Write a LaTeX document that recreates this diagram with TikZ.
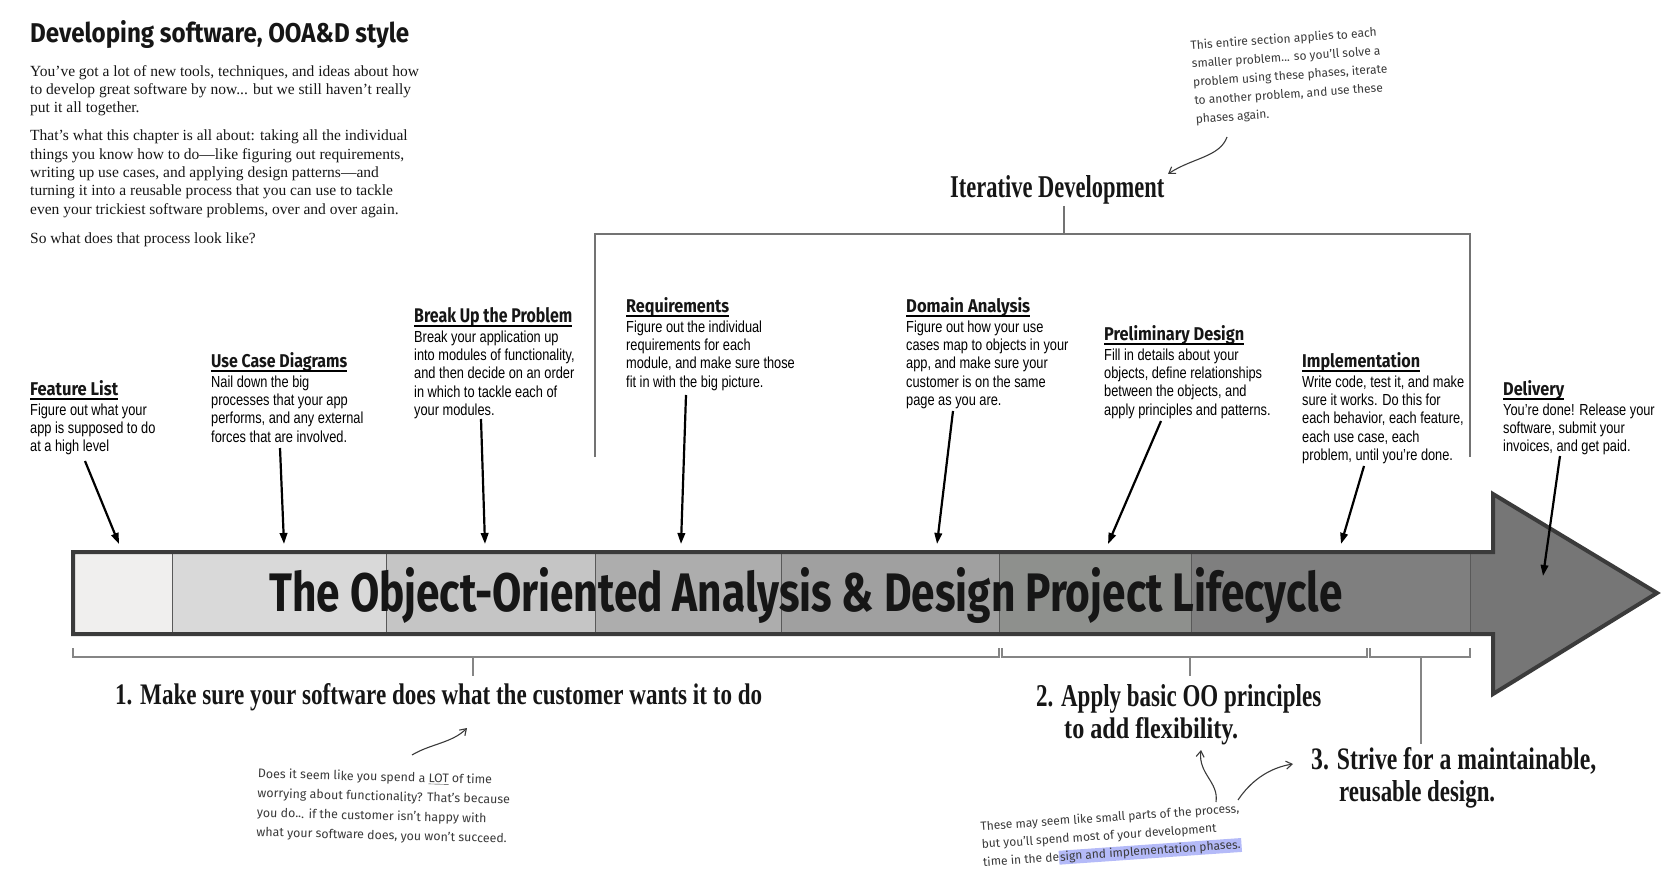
\documentclass[tikz,border=0pt]{standalone}
\usepackage{fontspec}
\usepackage{graphicx}
\usetikzlibrary{arrows.meta}
\setmainfont{Liberation Serif}
\newfontfamily\bodyfont[FakeStretch=0.8]{Liberation Sans}
\newfontfamily\headfont{Fira Sans}
\newfontfamily\handfont{Fira Sans}
\definecolor{sA}{HTML}{F0EFEE}
\definecolor{sB}{HTML}{D9D9D9}
\definecolor{sC}{HTML}{C5C5C5}
\definecolor{sD}{HTML}{ADADAD}
\definecolor{sE}{HTML}{A0A0A0}
\definecolor{sF}{HTML}{8E908D}
\definecolor{sG}{HTML}{7F7F7F}
\definecolor{sH}{HTML}{767676}
\definecolor{rim}{HTML}{3B3B3B}
\definecolor{ink}{HTML}{161616}
\definecolor{hand}{HTML}{3A3A3A}
\definecolor{brk}{HTML}{858585}
\definecolor{hl}{HTML}{B4BAF8}
\begin{document}
\begin{tikzpicture}[x=1pt,y=-1pt,
  intro/.style={anchor=north west, inner sep=0pt, align=left, text=ink, font=\fontsize{15.5}{18.3}\selectfont},
  hd/.style={anchor=base west, inner sep=0pt, text=ink, font=\headfont\bfseries},
  bd/.style={anchor=north west, inner sep=0pt, align=left, text=black, font=\bodyfont\fontsize{16}{18.3}\selectfont},
  lab/.style={anchor=base west, inner sep=0pt, text=ink, font=\bfseries},
  note/.style={anchor=north west, inner sep=0pt, align=left, text=hand, font=\handfont\fontsize{12}{18.5}\selectfont},
  ptr/.style={line width=2.2pt, black, -{Triangle[length=11pt,width=7.5pt]}},
  curv/.style={line width=1.1pt, hand, -{Straight Barb[length=6pt,width=8pt]}},
  ul/.style={line width=1.3pt, black},
  divl/.style={line width=1pt, draw=black!65},
  brkt/.style={line width=1.6pt, brk},
  ibrk/.style={line width=1.6pt, black!55}
]
\useasboundingbox (0,0) rectangle (1673,890);

% ---------- intro ----------
\node[anchor=base west, inner sep=0pt, text=ink, font=\headfont\bfseries] (ttl) at (30,43)
  {\resizebox{379pt}{22pt}{Developing software, OOA\&D style}};
\node[intro] (p1) at (30,65) {You’ve got a lot of new tools, techniques, and ideas about how\\to develop great software by now... but we still haven’t really\\put it all together.};
\node[intro] (p2) at (30,130) {That’s what this chapter is all about: taking all the individual\\things you know how to do—like figuring out requirements,\\writing up use cases, and applying design patterns—and\\turning it into a reusable process that you can use to tackle\\even your trickiest software problems, over and over again.};
\node[intro] (p3) at (30,232.5) {So what does that process look like?};

% ---------- top note ----------
\node[note, rotate=4] (tnote) at (1190,40) {This entire section applies to each\\smaller problem... so you’ll solve a\\problem using these phases, iterate\\to another problem, and use these\\phases again.};
\coordinate (tn-s) at (1227,137);
\coordinate (tn-e) at (1168,174);
\draw[curv] (tn-s) .. controls (1220,157) and (1192,158) .. (tn-e);

% ---------- iterative development ----------
\node[lab] (iter) at (950,198) {\resizebox{214pt}{22pt}{Iterative Development}};
\coordinate (it-top) at (1064,206);
\coordinate (it-mid) at (1064,234);
\coordinate (it-l) at (595,234);
\coordinate (it-r) at (1470,234);
\coordinate (it-lb) at (595,457);
\coordinate (it-rb) at (1470,457);
\draw[ibrk] (it-top) -- (it-mid);
\draw[ibrk] (it-lb) -- (it-l) -- (it-r) -- (it-rb);

% ---------- big arrow ----------
\fill[sA] (73,552) rectangle (172,634);
\fill[sB] (172,552) rectangle (386,634);
\fill[sC] (386,552) rectangle (595,634);
\fill[sD] (595,552) rectangle (781,634);
\fill[sE] (781,552) rectangle (999,634);
\fill[sF] (999,552) rectangle (1191,634);
\fill[sG] (1191,552) rectangle (1470,634);
\fill[sH] (1470,552) -- (1493,552) -- (1493,494) -- (1657,593) -- (1493,694) -- (1493,634) -- (1470,634) -- cycle;
\foreach \xx in {172,386,595,781,999,1191,1470} { \draw[divl] (\xx,552) -- (\xx,634); }
\node[anchor=base west, inner sep=0pt, text=ink, font=\headfont\bfseries] (big) at (269,611)
  {\resizebox{1073pt}{44pt}{The Object-Oriented Analysis \& Design Project Lifecycle}};
\draw[line width=4pt, rim, line join=miter] (73,552) -- (1493,552) -- (1493,494) -- (1657,593) -- (1493,694) -- (1493,634) -- (73,634) -- cycle;

% ---------- phases ----------
% Feature List
\node[hd] (fl) at (30,396) {\resizebox{88pt}{15pt}{Feature List}};
\draw[ul] ([yshift=-3pt]fl.base west) -- ([yshift=-3pt]fl.base east);
\node[bd] (flb) at (30,403.5) {Figure out what your\\app is supposed to do\\at a high level};
\coordinate (fl-s) at (85,461); \coordinate (fl-e) at (119,544);
\draw[ptr] (fl-s) -- (fl-e);
% Use Case Diagrams
\node[hd] (uc) at (211,368) {\resizebox{136pt}{15pt}{Use Case Diagrams}};
\draw[ul] ([yshift=-3pt]uc.base west) -- ([yshift=-3pt]uc.base east);
\node[bd] (ucb) at (211,375.5) {Nail down the big\\processes that your app\\performs, and any external\\forces that are involved.};
\coordinate (uc-s) at (280,448); \coordinate (uc-e) at (284,544);
\draw[ptr] (uc-s) -- (uc-e);
% Break Up the Problem
\node[hd] (bu) at (414,323) {\resizebox{158pt}{15pt}{Break Up the Problem}};
\draw[ul] ([yshift=-3pt]bu.base west) -- ([yshift=-3pt]bu.base east);
\node[bd] (bub) at (414,330.5) {Break your application up\\into modules of functionality,\\and then decide on an order\\in which to tackle each of\\your modules.};
\coordinate (bu-s) at (481,419); \coordinate (bu-e) at (485,544);
\draw[ptr] (bu-s) -- (bu-e);
% Requirements
\node[hd] (rq) at (626,313) {\resizebox{103pt}{15pt}{Requirements}};
\draw[ul] ([yshift=-3pt]rq.base west) -- ([yshift=-3pt]rq.base east);
\node[bd] (rqb) at (626,320.5) {Figure out the individual\\requirements for each\\module, and make sure those\\fit in with the big picture.};
\coordinate (rq-s) at (686,395); \coordinate (rq-e) at (681,544);
\draw[ptr] (rq-s) -- (rq-e);
% Domain Analysis
\node[hd] (da) at (906,313) {\resizebox{124pt}{15pt}{Domain Analysis}};
\draw[ul] ([yshift=-3pt]da.base west) -- ([yshift=-3pt]da.base east);
\node[bd] (dab) at (906,320.5) {Figure out how your use\\cases map to objects in your\\app, and make sure your\\customer is on the same\\page as you are.};
\coordinate (da-s) at (953,411); \coordinate (da-e) at (937,544);
\draw[ptr] (da-s) -- (da-e);
% Preliminary Design
\node[hd] (pd) at (1104,341) {\resizebox{140pt}{15pt}{Preliminary Design}};
\draw[ul] ([yshift=-3pt]pd.base west) -- ([yshift=-3pt]pd.base east);
\node[bd] (pdb) at (1104,348.5) {Fill in details about your\\objects, define relationships\\between the objects, and\\apply principles and patterns.};
\coordinate (pd-s) at (1161,421); \coordinate (pd-e) at (1108,544);
\draw[ptr] (pd-s) -- (pd-e);
% Implementation
\node[hd] (im) at (1302,368) {\resizebox{118pt}{15pt}{Implementation}};
\draw[ul] ([yshift=-3pt]im.base west) -- ([yshift=-3pt]im.base east);
\node[bd] (imb) at (1302,375.5) {Write code, test it, and make\\sure it works. Do this for\\each behavior, each feature,\\each use case, each\\problem, until you’re done.};
\coordinate (im-s) at (1364,466); \coordinate (im-e) at (1341,544);
\draw[ptr] (im-s) -- (im-e);
% Delivery
\node[hd] (dl) at (1503,396) {\resizebox{61pt}{15pt}{Delivery}};
\draw[ul] ([yshift=-3pt]dl.base west) -- ([yshift=-3pt]dl.base east);
\node[bd] (dlb) at (1503,403.5) {You’re done! Release your\\software, submit your\\invoices, and get paid.};
\coordinate (dl-s) at (1560,456); \coordinate (dl-e) at (1543,576);
\draw[ptr] (dl-s) -- (dl-e);

% ---------- bottom brackets ----------
\draw[brkt] (73,648) -- (73,657) -- (999,657) -- (999,648);
\draw[brkt] (473,657) -- (473,676);
\draw[brkt] (1002,648) -- (1002,657) -- (1367,657) -- (1367,648);
\draw[brkt] (1190,657) -- (1190,676);
\draw[brkt] (1370,648) -- (1370,657) -- (1470,657) -- (1470,648);
\draw[brkt] (1421,657) -- (1421,744);

% ---------- bottom labels ----------
\node[lab] (g1) at (115,704) {\resizebox{647pt}{21pt}{1. Make sure your software does what the customer wants it to do}};
\node[lab] (g2a) at (1036,706) {\resizebox{285pt}{22pt}{2. Apply basic OO principles}};
\node[lab] (g2b) at (1064,738) {\resizebox{174pt}{21pt}{to add flexibility.}};
\node[lab] (g3a) at (1311,769) {\resizebox{285pt}{22pt}{3. Strive for a maintainable,}};
\node[lab] (g3b) at (1339,801) {\resizebox{156pt}{21pt}{reusable design.}};

% ---------- bottom notes ----------
\node[note, rotate=-1.5, font=\handfont\fontsize{12.4}{19.5}\selectfont] (n1) at (258,768)
  {Does it seem like you spend a \underline{LOT} of time\\worrying about functionality? That’s because\\you do... if the customer isn’t happy with\\what your software does, you won’t succeed.};
\coordinate (n1-s) at (412,755); \coordinate (n1-e) at (467,728);
\draw[curv] (n1-s) .. controls (430,744) and (452,743) .. (n1-e);

\node[note, rotate=4, font=\handfont\fontsize{12}{18}\selectfont] (n2) at (980,821)
  {These may seem like small parts of the process,\\but you’ll spend most of your development\\time in the de{\setlength{\fboxsep}{1pt}\colorbox{hl}{sign and implementation phases.}}};
\coordinate (n2-s1) at (1216,802); \coordinate (n2-e1) at (1201,750);
\draw[curv] (n2-s1) .. controls (1219,782) and (1198,774) .. (n2-e1);
\coordinate (n2-s2) at (1238,800); \coordinate (n2-e2) at (1293,764);
\draw[curv] (n2-s2) .. controls (1250,782) and (1268,768) .. (n2-e2);
\end{tikzpicture}
\end{document}
